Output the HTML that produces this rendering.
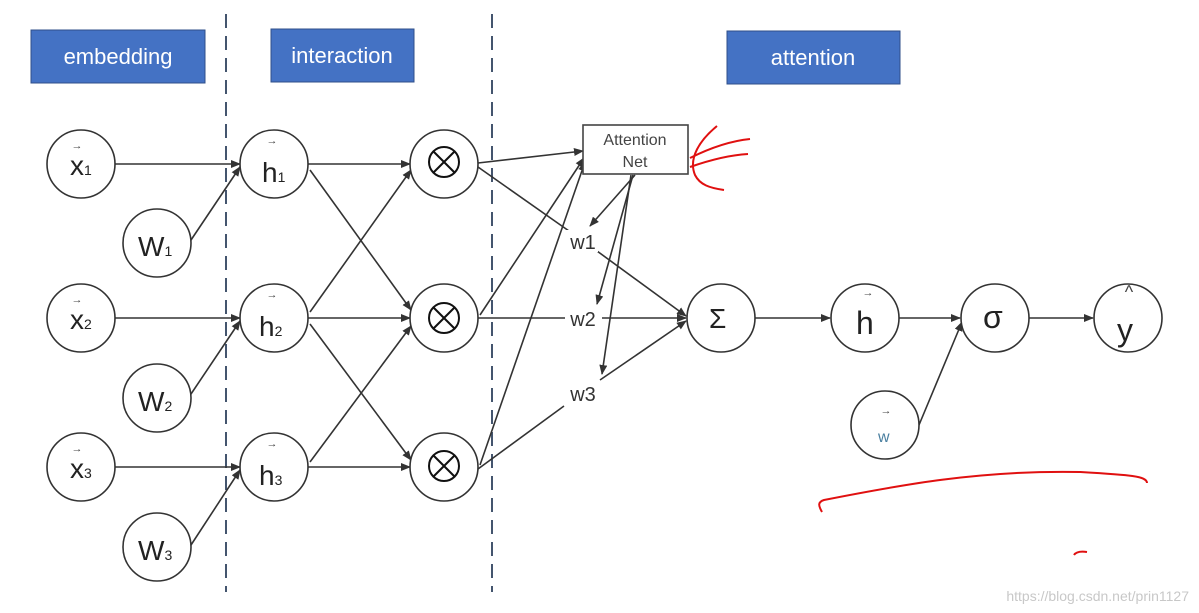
<!DOCTYPE html>
<html><head><meta charset="utf-8"><style>
html,body{margin:0;padding:0;background:#fff;}
svg{display:block;font-family:"Liberation Sans","DejaVu Sans",sans-serif;}
</style></head><body>
<svg width="1199" height="613" viewBox="0 0 1199 613" xmlns="http://www.w3.org/2000/svg">
<defs>
<marker id="a" markerWidth="10" markerHeight="8" refX="9" refY="4" orient="auto" markerUnits="userSpaceOnUse">
<path d="M0,0 L10,4 L0,8 Z" fill="#333"/></marker>
</defs>
<rect width="1199" height="613" fill="#fff"/>
<g fill="#4472c4" stroke="#2f4f8a" stroke-width="1">
<rect x="31" y="30" width="174" height="53"/>
<rect x="271" y="29" width="143" height="53"/>
<rect x="727" y="31" width="173" height="53"/>
</g>
<g fill="#fff" font-size="22" text-anchor="middle">
<text x="118" y="64">embedding</text>
<text x="342" y="63">interaction</text>
<text x="813" y="65">attention</text>
</g>
<g stroke="#44556e" stroke-width="2" stroke-dasharray="14,8">
<line x1="226" y1="14" x2="226" y2="592"/>
<line x1="492" y1="14" x2="492" y2="592"/>
</g>
<g stroke="#333" stroke-width="1.6" fill="none" marker-end="url(#a)">
<line x1="115" y1="164" x2="240" y2="164"/>
<line x1="115" y1="318" x2="240" y2="318"/>
<line x1="115" y1="467" x2="240" y2="467"/>
<line x1="191" y1="240" x2="240" y2="167"/>
<line x1="191" y1="394" x2="240" y2="321"/>
<line x1="191" y1="545" x2="240" y2="470"/>
<line x1="308" y1="164" x2="410" y2="164"/>
<line x1="308" y1="318" x2="410" y2="318"/>
<line x1="308" y1="467" x2="410" y2="467"/>
<line x1="310" y1="170" x2="411" y2="310"/>
<line x1="310" y1="312" x2="411" y2="170"/>
<line x1="310" y1="324" x2="411" y2="460"/>
<line x1="310" y1="462" x2="411" y2="326"/>
<line x1="478" y1="163" x2="583" y2="151"/>
<line x1="480" y1="315" x2="584" y2="158"/>
<line x1="480" y1="465" x2="585" y2="162"/>
<line x1="635" y1="175" x2="590" y2="226"/>
<line x1="633" y1="175" x2="597" y2="304"/>
<line x1="631" y1="175" x2="602" y2="374"/>
<line x1="597" y1="251" x2="686" y2="316"/>
<line x1="602" y1="318" x2="686" y2="318"/>
<line x1="600" y1="380" x2="686" y2="321"/>
<line x1="755" y1="318" x2="830" y2="318"/>
<line x1="899" y1="318" x2="960" y2="318"/>
<line x1="919" y1="425" x2="962" y2="322"/>
<line x1="1029" y1="318" x2="1093" y2="318"/>
</g>
<g stroke="#333" stroke-width="1.6" fill="none">
<line x1="478" y1="167" x2="569" y2="231"/>
<line x1="478" y1="318" x2="565" y2="318"/>
<line x1="478" y1="469" x2="564" y2="406"/>
</g>
<rect x="583" y="125" width="105" height="49" fill="#fff" stroke="#444" stroke-width="1.6"/>
<text x="635" y="145" font-size="16" fill="#444" text-anchor="middle">Attention</text>
<text x="635" y="167" font-size="16" fill="#444" text-anchor="middle">Net</text>
<g fill="#fff" font-size="19" fill-opacity="1">
<rect x="566" y="230" width="32" height="22"/>
<rect x="565" y="308" width="36" height="22"/>
<rect x="564" y="383" width="36" height="22"/>
</g>
<g fill="#333" font-size="20" text-anchor="middle">
<text x="583" y="249">w1</text>
<text x="583" y="326">w2</text>
<text x="583" y="401">w3</text>
</g>
<g fill="#fff" stroke="#333" stroke-width="1.6">
<circle cx="81" cy="164" r="34"/><circle cx="81" cy="318" r="34"/><circle cx="81" cy="467" r="34"/>
<circle cx="157" cy="243" r="34"/><circle cx="157" cy="398" r="34"/><circle cx="157" cy="547" r="34"/>
<circle cx="274" cy="164" r="34"/><circle cx="274" cy="318" r="34"/><circle cx="274" cy="467" r="34"/>
<circle cx="444" cy="164" r="34"/><circle cx="444" cy="318" r="34"/><circle cx="444" cy="467" r="34"/>
<circle cx="721" cy="318" r="34"/><circle cx="865" cy="318" r="34"/><circle cx="995" cy="318" r="34"/>
<circle cx="1128" cy="318" r="34"/><circle cx="885" cy="425" r="34"/>
</g>
<g stroke="#111" stroke-width="2" fill="none">
<circle cx="444" cy="162" r="15"/><line x1="434" y1="152" x2="454" y2="172"/><line x1="454" y1="152" x2="434" y2="172"/>
<circle cx="444" cy="318" r="15"/><line x1="434" y1="308" x2="454" y2="328"/><line x1="454" y1="308" x2="434" y2="328"/>
<circle cx="444" cy="466" r="15"/><line x1="434" y1="456" x2="454" y2="476"/><line x1="454" y1="456" x2="434" y2="476"/>
</g>
<g fill="#222" font-size="28">
<text x="70" y="175">x<tspan font-size="14">1</tspan></text>
<text x="70" y="329">x<tspan font-size="14">2</tspan></text>
<text x="70" y="478">x<tspan font-size="14">3</tspan></text>
<text x="138" y="256">W<tspan font-size="14">1</tspan></text>
<text x="138" y="411">W<tspan font-size="14">2</tspan></text>
<text x="138" y="560">W<tspan font-size="14">3</tspan></text>
<text x="262" y="182">h<tspan font-size="14">1</tspan></text>
<text x="259" y="336">h<tspan font-size="14">2</tspan></text>
<text x="259" y="485">h<tspan font-size="14">3</tspan></text>
<text x="709" y="328">Σ</text>
<text x="856" y="334" font-size="32">h</text>
<text x="983" y="328" font-size="32">σ</text>
<text x="1117" y="341" font-size="32">y</text>
<text x="878" y="442" font-size="16" fill="#4a7fa0">w</text>
</g>
<g fill="#444" font-size="11" text-anchor="middle">
<text x="77" y="149">→</text><text x="77" y="303">→</text><text x="77" y="452">→</text>
<text x="272" y="144">→</text><text x="272" y="298">→</text><text x="272" y="447">→</text>
<text x="868" y="296">→</text><text x="886" y="414">→</text>
<text x="1129" y="298" font-size="18">^</text>
</g>
<g stroke="#e01010" stroke-width="2" fill="none">
<path d="M717,126 C700,140 688,158 695,175 C700,185 710,188 724,190"/>
<path d="M690,158 C710,148 730,141 750,139"/>
<path d="M690,167 C710,160 730,155 748,154"/>
<path d="M822,512 C818,505 818,502 824,500 C900,485 980,470 1080,472 C1130,475 1147,476 1147,483"/>
<path d="M1074,555 C1076,552 1080,551 1087,552"/>
</g>
<text x="1189" y="601" font-size="14" fill="#c8c8c8" text-anchor="end">https://blog.csdn.net/prin1127</text>
</svg>
</body></html>
